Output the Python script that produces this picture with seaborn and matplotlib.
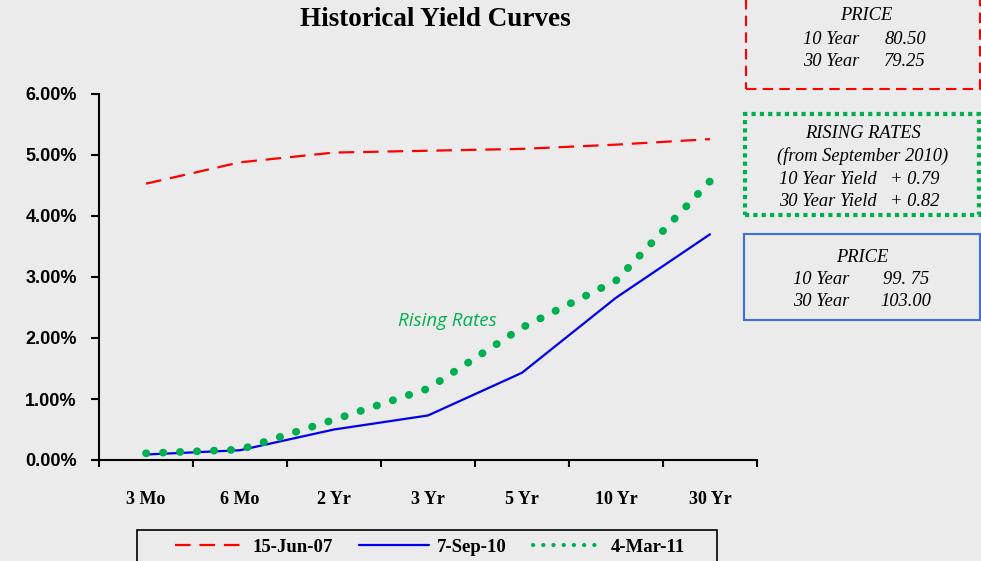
import matplotlib
matplotlib.use("Agg")
import matplotlib.pyplot as plt
import seaborn as sns
import pandas as pd
from matplotlib.lines import Line2D
from matplotlib.patches import Rectangle
from matplotlib.ticker import FuncFormatter, FixedLocator, NullFormatter

# data
tenors = ["3 Mo", "6 Mo", "2 Yr", "3 Yr", "5 Yr", "10 Yr", "30 Yr"]
jun07 = [4.53, 4.88, 5.04, 5.07, 5.10, 5.17, 5.26]
sep10 = [0.09, 0.16, 0.50, 0.73, 1.43, 2.66, 3.70]
mar11 = [0.11, 0.17, 0.66, 1.17, 2.17, 2.94, 4.57]
series_labels = ["15-Jun-07", "7-Sep-10", "4-Mar-11"]

BG = "#EBEBEB"
RED = "#FF0000"
BLUE = "#0000EE"
GREEN = "#00B050"
BOXBLUE = "#3F6FE8"

sns.set_style("white", {"axes.facecolor": BG, "figure.facecolor": BG,
                        "text.color": "black", "xtick.color": "black",
                        "ytick.color": "black"})
plt.rcParams["font.family"] = ["Liberation Serif", "DejaVu Serif"]

W, H = 981, 561
fig = plt.figure(figsize=(W / 100, H / 100), dpi=100)
ax = fig.add_axes([99 / W, 1 - 460 / H, (757 - 99) / W, (460 - 94) / H])


def px(x, y):
    return x / W, 1 - y / H


df = pd.DataFrame({"tenor": tenors, "jun07": jun07, "sep10": sep10, "mar11": mar11})

sns.lineplot(data=df, x="tenor", y="jun07", color=RED, lw=1.6, sort=False, ax=ax)
ax.lines[-1].set_dashes((7, 4))
sns.lineplot(data=df, x="tenor", y="sep10", color=BLUE, lw=1.6, sort=False, ax=ax)
sns.lineplot(data=df, x="tenor", y="mar11", color=GREEN, lw=5.6, sort=False, ax=ax)
# period kept at ~12.2pt so a dot lands on the last point
ax.lines[-1].set_dashes((0.0464, 2.1357))
ax.lines[-1].set_dash_capstyle("round")

ax.set_xlim(-0.5, 6.5)
ax.set_ylim(0, 6)
ax.set_xlabel("")
ax.set_ylabel("")

# axes styling
for s in ["top", "right"]:
    ax.spines[s].set_visible(False)
for s in ["left", "bottom"]:
    ax.spines[s].set_color("black")
    ax.spines[s].set_linewidth(1.5)

ax.set_yticks(range(0, 7))
ax.yaxis.set_major_formatter(FuncFormatter(lambda v, p: f"{v:.2f}%"))
ax.tick_params(axis="y", direction="out", length=6, width=1.5, color="black",
               labelcolor="black", pad=10, left=True)
for lab in ax.get_yticklabels():
    lab.set_family(["Liberation Sans", "DejaVu Sans"])
    lab.set_fontweight("bold")
    lab.set_fontsize(13)

ax.set_xticks(range(len(tenors)))
ax.set_xticklabels(tenors, fontsize=13, fontweight="bold", color="black")
ax.xaxis.set_minor_locator(FixedLocator([i - 0.5 for i in range(len(tenors) + 1)]))
ax.xaxis.set_minor_formatter(NullFormatter())
ax.tick_params(axis="x", which="major", length=0, pad=22)
ax.tick_params(axis="x", which="minor", direction="out", length=5, width=1.5,
               color="black", bottom=True)

fig.text(*px(435, 20), "Historical Yield Curves", ha="center", va="center",
         fontsize=19.5, fontweight="bold")

ax.text(*px(447, 321), "Rising Rates", transform=fig.transFigure, ha="center",
        va="center", fontsize=13.5, style="italic", color=GREEN,
        family=["Open Sans", "DejaVu Sans"])

# legend
fig.patches.append(Rectangle(px(137, 565), 580 / W, 35 / H, transform=fig.transFigure,
                             fill=False, edgecolor="black", lw=1.2))
handles = [
    Line2D([], [], color=RED, lw=1.6, dashes=(7, 4)),
    Line2D([], [], color=BLUE, lw=1.6),
    Line2D([], [], color=GREEN, lw=3, dashes=(0.05, 2.4), dash_capstyle="round"),
]
fig.legend(handles, series_labels, loc="center", bbox_to_anchor=px(430, 547),
           ncol=3, frameon=False, handlelength=3.7, handletextpad=0.45,
           columnspacing=1.4, prop={"weight": "bold", "size": 13.5})

# annotation boxes on the right
fig.patches.append(Rectangle(px(746, 89), 234 / W, 100 / H, transform=fig.transFigure,
                             fill=False, edgecolor=RED, lw=1.5, ls=(0, (5, 3))))
fig.patches.append(Rectangle(px(745, 215), 234 / W, 101 / H, transform=fig.transFigure,
                             fill=False, edgecolor=GREEN, lw=3, ls=(0, (1, 1))))
fig.patches.append(Rectangle(px(744, 320), 236 / W, 86 / H, transform=fig.transFigure,
                             fill=False, edgecolor=BOXBLUE, lw=1.5))

box_kw = dict(ha="center", va="center", fontsize=13.3, style="italic")
fig.text(*px(866, 16), "PRICE", **box_kw)
fig.text(*px(831, 40), "10 Year", **box_kw)
fig.text(*px(905, 40), "80.50", **box_kw)
fig.text(*px(831, 62), "30 Year", **box_kw)
fig.text(*px(905, 62), "79.25", **box_kw)

fig.text(*px(863, 133), "RISING RATES", **box_kw)
fig.text(*px(863, 156), "(from September 2010)", **box_kw)
fig.text(*px(828, 179), "10 Year Yield", **box_kw)
fig.text(*px(915, 179), "+ 0.79", **box_kw)
fig.text(*px(828, 202), "30 Year Yield", **box_kw)
fig.text(*px(915, 202), "+ 0.82", **box_kw)

fig.text(*px(862, 257), "PRICE", **box_kw)
fig.text(*px(821, 279), "10 Year", **box_kw)
fig.text(*px(906, 279), "99. 75", **box_kw)
fig.text(*px(821, 301), "30 Year", **box_kw)
fig.text(*px(906, 301), "103.00", **box_kw)

fig.savefig("out.png", dpi=100, facecolor=BG)
